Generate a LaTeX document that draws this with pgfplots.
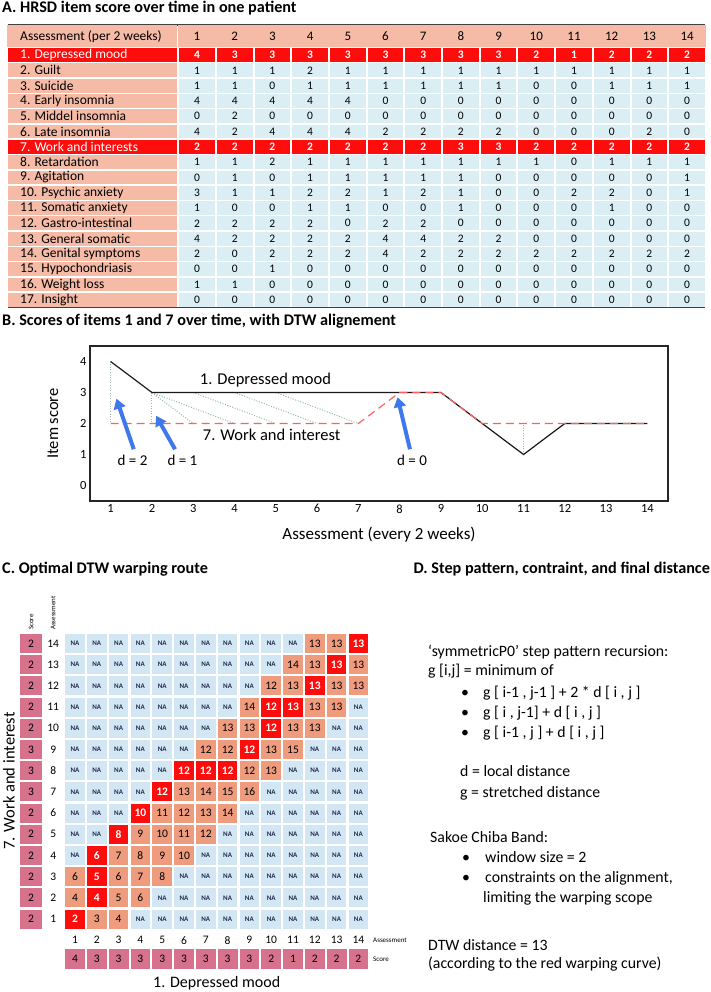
\documentclass[border=0pt]{standalone}
\usepackage{fontspec}
\setmainfont{Carlito}
\usepackage{pgfplots}
\usepackage{pgfplotstable}
\pgfplotsset{compat=1.18}
\usetikzlibrary{arrows.meta}
\definecolor{tblue}{RGB}{218,238,244}
\definecolor{tsalmon}{RGB}{245,187,166}
\definecolor{tred}{RGB}{255,12,12}
\definecolor{mblue}{RGB}{211,230,243}
\definecolor{morange}{RGB}{239,156,126}
\definecolor{mscore}{RGB}{214,114,140}
\definecolor{navy}{RGB}{30,45,80}
\definecolor{dtwline}{RGB}{150,186,166}
\definecolor{rdash}{RGB}{255,95,95}
\definecolor{arrowblue}{RGB}{62,120,236}
\newcommand\fs[1]{\fontsize{#1}{#1}\selectfont}

\pgfplotsset{
  cellbase/.style={draw=none, mark=none, point meta=explicit symbolic,
     nodes near coords={\pgfplotspointmeta}},
  cBlue/.style={cellbase, nodes near coords style={anchor=center, inner sep=0pt,
     minimum width=35.7pt, minimum height=13.8pt, fill=tblue, font=\fs{11.5}, text=black}},
  cRed/.style={cellbase, nodes near coords style={anchor=center, inner sep=0pt,
     minimum width=35.7pt, minimum height=13.8pt, fill=tred, font=\fs{11.5}\bfseries, text=white}},
}

% Panel A data
\pgfplotstableread{
r c1 c2 c3 c4 c5 c6 c7 c8 c9 c10 c11 c12 c13 c14
2 1 1 1 2 1 1 1 1 1 1 1 1 1 1
3 1 1 0 1 1 1 1 1 1 0 0 1 1 1
4 4 4 4 4 4 0 0 0 0 0 0 0 0 0
5 0 2 0 0 0 0 0 0 0 0 0 0 0 0
6 4 2 4 4 4 2 2 2 2 0 0 0 2 0
8 1 1 2 1 1 1 1 1 1 1 0 1 1 1
9 0 1 0 1 1 1 1 1 0 0 0 0 0 1
10 3 1 1 2 2 1 2 1 0 0 2 2 0 1
11 1 0 0 1 1 0 0 1 0 0 0 1 0 0
12 2 2 2 2 0 2 2 0 0 0 0 0 0 0
13 4 2 2 2 2 4 4 2 2 0 0 0 0 0
14 2 0 2 2 2 4 2 2 2 2 2 2 2 2
15 0 0 1 0 0 0 0 0 0 0 0 0 0 0
16 1 1 0 0 0 0 0 0 0 0 0 0 0 0
17 0 0 0 0 0 0 0 0 0 0 0 0 0 0
}\tabBlue
\pgfplotstableread{
r c1 c2 c3 c4 c5 c6 c7 c8 c9 c10 c11 c12 c13 c14
1 4 3 3 3 3 3 3 3 3 2 1 2 2 2
7 2 2 2 2 2 2 2 3 3 2 2 2 2 2
}\tabRed
\pgfplotstableread[col sep=comma]{
r,lab
2,2. Guilt
3,3. Suicide
4,4. Early insomnia
5,5. Middel insomnia
6,6. Late insomnia
8,8. Retardation
9,9. Agitation
10,10. Psychic anxiety
11,11. Somatic anxiety
12,12. Gastro-intestinal
13,13. General somatic
14,14. Genital symptoms
15,15. Hypochondriasis
16,16. Weight loss
17,17. Insight
}\tabLab
\pgfplotstableread[col sep=comma]{
r,lab
1,1. Depressed mood
7,7. Work and interests
}\tabLabRed

\begin{document}
\begin{tikzpicture}
\useasboundingbox (0,0) rectangle (711pt,-992pt);

% ---------- Titles ----------
\node[anchor=base west, font=\fs{16.2}\bfseries, inner sep=0pt] at (2pt,-13pt) {A. HRSD item score over time in one patient};
\node[anchor=base west, font=\fs{16.2}\bfseries, inner sep=0pt] at (2pt,-325pt) {B. Scores of items 1 and 7 over time, with DTW alignement};
\node[anchor=base west, font=\fs{16.2}\bfseries, inner sep=0pt] at (2pt,-573pt) {C. Optimal DTW warping route};
\node[anchor=base east, font=\fs{16.2}\bfseries, inner sep=0pt] at (710pt,-573pt) {D. Step pattern, contraint, and final distance};

% ---------- Panel A table ----------
\begin{axis}[at={(8pt,-25pt)}, anchor=north west, scale only axis,
  width=697pt, height=282.45pt, xmin=-4.0133, xmax=14.475, ymin=-0.9608, ymax=17.5,
  y dir=reverse, hide axis, clip=false]
% header
\addplot[cellbase, nodes near coords style={anchor=center, inner sep=0pt,
   minimum width=37.8pt, minimum height=22.35pt, fill=tsalmon, font=\fs{13}, text=black}] coordinates {
 (1,-0.229)[1] (2,-0.229)[2] (3,-0.229)[3] (4,-0.229)[4] (5,-0.229)[5] (6,-0.229)[6] (7,-0.229)[7]
 (8,-0.229)[8] (9,-0.229)[9] (10,-0.229)[10] (11,-0.229)[11] (12,-0.229)[12] (13,-0.229)[13] (14,-0.229)[14]};
\addplot[cellbase, nodes near coords={}, nodes near coords style={anchor=center, inner sep=0pt,
   minimum width=170pt, minimum height=22.35pt, fill=tsalmon}] coordinates {(-1.772,-0.229)[a]};
% label column backgrounds
\addplot[cellbase, nodes near coords={}, nodes near coords style={anchor=center, inner sep=0pt,
   minimum width=169pt, minimum height=13.8pt, fill=tsalmon}] table[x expr=-1.772, y=r, meta=r] {\tabLab};
\addplot[cellbase, nodes near coords={}, nodes near coords style={anchor=center, inner sep=0pt,
   minimum width=169pt, minimum height=13.8pt, fill=tred}] table[x expr=-1.772, y=r, meta=r] {\tabLabRed};
% label texts
\addplot[cellbase, nodes near coords style={anchor=west, inner sep=0pt, font=\fs{13.5}, text=black}]
  coordinates {(-3.695,-0.229)[Assessment (per 2 weeks)]};
\addplot[cellbase, nodes near coords style={anchor=west, inner sep=0pt, font=\fs{13.5}, text=black}]
  table[x expr=-3.695, y=r, meta=lab] {\tabLab};
\addplot[cellbase, nodes near coords style={anchor=west, inner sep=0pt, font=\fs{13.5}, text=white}]
  table[x expr=-3.695, y=r, meta=lab] {\tabLabRed};
% data cells
\addplot[cBlue] table[x expr=1, y=r, meta=c1] {\tabBlue};
\addplot[cBlue] table[x expr=2, y=r, meta=c2] {\tabBlue};
\addplot[cBlue] table[x expr=3, y=r, meta=c3] {\tabBlue};
\addplot[cBlue] table[x expr=4, y=r, meta=c4] {\tabBlue};
\addplot[cBlue] table[x expr=5, y=r, meta=c5] {\tabBlue};
\addplot[cBlue] table[x expr=6, y=r, meta=c6] {\tabBlue};
\addplot[cBlue] table[x expr=7, y=r, meta=c7] {\tabBlue};
\addplot[cBlue] table[x expr=8, y=r, meta=c8] {\tabBlue};
\addplot[cBlue] table[x expr=9, y=r, meta=c9] {\tabBlue};
\addplot[cBlue] table[x expr=10, y=r, meta=c10] {\tabBlue};
\addplot[cBlue] table[x expr=11, y=r, meta=c11] {\tabBlue};
\addplot[cBlue] table[x expr=12, y=r, meta=c12] {\tabBlue};
\addplot[cBlue] table[x expr=13, y=r, meta=c13] {\tabBlue};
\addplot[cBlue] table[x expr=14, y=r, meta=c14] {\tabBlue};
\addplot[cRed] table[x expr=1, y=r, meta=c1] {\tabRed};
\addplot[cRed] table[x expr=2, y=r, meta=c2] {\tabRed};
\addplot[cRed] table[x expr=3, y=r, meta=c3] {\tabRed};
\addplot[cRed] table[x expr=4, y=r, meta=c4] {\tabRed};
\addplot[cRed] table[x expr=5, y=r, meta=c5] {\tabRed};
\addplot[cRed] table[x expr=6, y=r, meta=c6] {\tabRed};
\addplot[cRed] table[x expr=7, y=r, meta=c7] {\tabRed};
\addplot[cRed] table[x expr=8, y=r, meta=c8] {\tabRed};
\addplot[cRed] table[x expr=9, y=r, meta=c9] {\tabRed};
\addplot[cRed] table[x expr=10, y=r, meta=c10] {\tabRed};
\addplot[cRed] table[x expr=11, y=r, meta=c11] {\tabRed};
\addplot[cRed] table[x expr=12, y=r, meta=c12] {\tabRed};
\addplot[cRed] table[x expr=13, y=r, meta=c13] {\tabRed};
\addplot[cRed] table[x expr=14, y=r, meta=c14] {\tabRed};
\draw[line width=1.3pt, black!75] (rel axis cs:0,0) -- (rel axis cs:1,0);
\draw[line width=1.3pt, black!75] (rel axis cs:0,1) -- (rel axis cs:1,1);
\end{axis}

% ---------- Panel B ----------
\begin{axis}[at={(90pt,-501pt)}, anchor=south west, scale only axis,
  width=578pt, height=155pt, xmin=0.5, xmax=14.5, ymin=-0.5, ymax=4.5,
  xtick={1,...,14}, ytick={0,...,4}, tick style={draw=none},
  axis line style={line width=1.2pt, black!85},
  /pgf/number format/assume math mode=true,
  ticklabel style={font=\fs{12.5}},
  xlabel={Assessment (every 2 weeks)}, ylabel={Item score},
  xlabel style={font=\fs{17}, at={(axis description cs:0.5,-0.215)}, anchor=center},
  ylabel style={font=\fs{16.5}, at={(axis description cs:-0.064,0.5)}, anchor=center},
  clip=false]
\addplot[dtwline, line width=1pt, dash pattern=on 1pt off 1.6pt] coordinates {(1,4) (1,2)};
\addplot[dtwline, line width=1pt, dash pattern=on 1pt off 1.6pt] coordinates {(2,3) (2,2)};
\addplot[dtwline, line width=1pt, dash pattern=on 1pt off 1.6pt] coordinates {(2,3) (3,2)};
\addplot[dtwline, line width=1pt, dash pattern=on 1pt off 1.6pt] coordinates {(2,3) (4,2)};
\addplot[dtwline, line width=1pt, dash pattern=on 1pt off 1.6pt] coordinates {(3,3) (5,2)};
\addplot[dtwline, line width=1pt, dash pattern=on 1pt off 1.6pt] coordinates {(4,3) (6,2)};
\addplot[dtwline, line width=1pt, dash pattern=on 1pt off 1.6pt] coordinates {(5,3) (7,2)};
\addplot[dtwline, line width=1pt, dash pattern=on 1pt off 1.6pt] coordinates {(6,3) (8,3)};
\addplot[dtwline, line width=1pt, dash pattern=on 1pt off 1.6pt] coordinates {(11,1) (11,2)};
\addplot[black!90, line width=1.2pt] coordinates {(1,4) (2,3) (3,3) (4,3) (5,3) (6,3) (7,3) (8,3) (9,3) (10,2) (11,1) (12,2) (13,2) (14,2)};
\addplot[rdash, line width=1.2pt, dash pattern=on 8pt off 5pt] coordinates {(1,2) (2,2) (3,2) (4,2) (5,2) (6,2) (7,2) (8,3) (9,3) (10,2) (11,2) (12,2) (13,2) (14,2)};
\node[font=\fs{16.5}] at (axis cs:4.75,3.39) {1. Depressed mood};
\node[font=\fs{16.5}] at (axis cs:4.9,1.65) {7. Work and interest};
\node[font=\fs{15}] at (axis cs:1.53,0.8) {d = 2};
\node[font=\fs{15}] at (axis cs:2.74,0.8) {d = 1};
\node[font=\fs{15}] at (axis cs:8.3,0.8) {d = 0};
\draw[arrowblue, line width=4pt, -{Triangle[length=10pt,width=12pt]}] (axis cs:1.56,1.17) -- (axis cs:1.14,2.8);
\draw[arrowblue, line width=4pt, -{Triangle[length=10pt,width=12pt]}] (axis cs:2.56,1.17) -- (axis cs:2.1,2.25);
\draw[arrowblue, line width=4pt, -{Triangle[length=10pt,width=12pt]}] (axis cs:8.25,1.17) -- (axis cs:7.95,2.85);
\end{axis}

% ---------- Panel C ----------
\begin{axis}[at={(9.6pt,-972pt)}, anchor=south west, scale only axis,
  width=370.6pt, height=349.8pt, xmin=-2, xmax=15, ymin=-1.5, ymax=15,
  hide axis, clip=false]
\addplot[draw=none, mark=none, point meta=x, nodes near coords={NA},
  nodes near coords style={anchor=center, inner sep=0pt, minimum width=19.5pt, minimum height=19pt,
  fill=mblue, font=\fs{7}\bfseries, text=navy}] coordinates {
 (4,1)(5,1)(6,1)(7,1)(8,1)(9,1)(10,1)(11,1)(12,1)(13,1)(14,1)
 (5,2)(6,2)(7,2)(8,2)(9,2)(10,2)(11,2)(12,2)(13,2)(14,2)
 (6,3)(7,3)(8,3)(9,3)(10,3)(11,3)(12,3)(13,3)(14,3)
 (1,4)(7,4)(8,4)(9,4)(10,4)(11,4)(12,4)(13,4)(14,4)
 (1,5)(2,5)(8,5)(9,5)(10,5)(11,5)(12,5)(13,5)(14,5)
 (1,6)(2,6)(3,6)(9,6)(10,6)(11,6)(12,6)(13,6)(14,6)
 (1,7)(2,7)(3,7)(4,7)(10,7)(11,7)(12,7)(13,7)(14,7)
 (1,8)(2,8)(3,8)(4,8)(5,8)(11,8)(12,8)(13,8)(14,8)
 (1,9)(2,9)(3,9)(4,9)(5,9)(6,9)(12,9)(13,9)(14,9)
 (1,10)(2,10)(3,10)(4,10)(5,10)(6,10)(7,10)(13,10)(14,10)
 (1,11)(2,11)(3,11)(4,11)(5,11)(6,11)(7,11)(8,11)(14,11)
 (1,12)(2,12)(3,12)(4,12)(5,12)(6,12)(7,12)(8,12)(9,12)
 (1,13)(2,13)(3,13)(4,13)(5,13)(6,13)(7,13)(8,13)(9,13)(10,13)
 (1,14)(2,14)(3,14)(4,14)(5,14)(6,14)(7,14)(8,14)(9,14)(10,14)(11,14)};
\addplot[cellbase, nodes near coords style={anchor=center, inner sep=0pt, minimum width=19.5pt,
  minimum height=19pt, fill=morange, font=\fs{11.5}, text=black}] coordinates {
 (2,1)[3] (3,1)[4]
 (1,2)[4] (3,2)[5] (4,2)[6]
 (1,3)[6] (3,3)[6] (4,3)[7] (5,3)[8]
 (3,4)[7] (4,4)[8] (5,4)[9] (6,4)[10]
 (4,5)[9] (5,5)[10] (6,5)[11] (7,5)[12]
 (5,6)[11] (6,6)[12] (7,6)[13] (8,6)[14]
 (6,7)[13] (7,7)[14] (8,7)[15] (9,7)[16]
 (9,8)[12] (10,8)[13]
 (7,9)[12] (8,9)[12] (10,9)[13] (11,9)[15]
 (8,10)[13] (9,10)[13] (11,10)[13] (12,10)[13]
 (9,11)[14] (12,11)[13] (13,11)[13]
 (10,12)[12] (11,12)[13] (13,12)[13] (14,12)[13]
 (11,13)[14] (12,13)[13] (14,13)[13]
 (12,14)[13] (13,14)[13]};
\addplot[cellbase, nodes near coords style={anchor=center, inner sep=0pt, minimum width=19.5pt,
  minimum height=19pt, fill=tred, font=\fs{11.5}\bfseries, text=white}] coordinates {
 (1,1)[2] (2,2)[4] (2,3)[5] (2,4)[6] (3,5)[8] (4,6)[10] (5,7)[12] (6,8)[12] (7,8)[12]
 (8,8)[12] (9,9)[12] (10,10)[12] (10,11)[12] (11,11)[13] (12,12)[13] (13,13)[13] (14,14)[13]};
% score column (7. Work and interest) and row numbers
\addplot[cellbase, nodes near coords style={anchor=center, inner sep=0pt, minimum width=22pt,
  minimum height=19pt, fill=mscore, font=\fs{11.5}, text=black}] coordinates {
 (-1.018,1)[2] (-1.018,2)[2] (-1.018,3)[2] (-1.018,4)[2] (-1.018,5)[2] (-1.018,6)[2] (-1.018,7)[3]
 (-1.018,8)[3] (-1.018,9)[3] (-1.018,10)[2] (-1.018,11)[2] (-1.018,12)[2] (-1.018,13)[2] (-1.018,14)[2]};
\addplot[cellbase, nodes near coords style={anchor=center, inner sep=0pt, font=\fs{11.5}, text=black}] coordinates {
 (0,1)[1] (0,2)[2] (0,3)[3] (0,4)[4] (0,5)[5] (0,6)[6] (0,7)[7] (0,8)[8] (0,9)[9] (0,10)[10]
 (0,11)[11] (0,12)[12] (0,13)[13] (0,14)[14]};
% bottom: assessment numbers and score row (1. Depressed mood)
\addplot[cellbase, nodes near coords style={anchor=center, inner sep=0pt, font=\fs{11.5}, text=black}] coordinates {
 (1,0)[1] (2,0)[2] (3,0)[3] (4,0)[4] (5,0)[5] (6,0)[6] (7,0)[7] (8,0)[8] (9,0)[9] (10,0)[10]
 (11,0)[11] (12,0)[12] (13,0)[13] (14,0)[14]};
\addplot[cellbase, nodes near coords style={anchor=center, inner sep=0pt, minimum width=19.8pt,
  minimum height=20pt, fill=mscore, font=\fs{11.5}, text=black}] coordinates {
 (1,-0.887)[4] (2,-0.887)[3] (3,-0.887)[3] (4,-0.887)[3] (5,-0.887)[3] (6,-0.887)[3] (7,-0.887)[3]
 (8,-0.887)[3] (9,-0.887)[3] (10,-0.887)[2] (11,-0.887)[1] (12,-0.887)[2] (13,-0.887)[2] (14,-0.887)[2]};
\node[anchor=west, font=\fs{7}, inner sep=0pt] at (axis cs:14.67,0) {Assessment};
\node[anchor=west, font=\fs{7}, inner sep=0pt] at (axis cs:14.67,-0.887) {Score};
\node[anchor=west, rotate=90, font=\fs{7}, inner sep=0pt] at (axis cs:-1.018,14.63) {Score};
\node[anchor=west, rotate=90, font=\fs{7}, inner sep=0pt] at (axis cs:0,14.63) {Assessment};
\node[rotate=90, font=\fs{16.5}, inner sep=0pt] at (axis cs:-2.03,7.51) {7. Work and interest};
\node[font=\fs{16}, inner sep=0pt] at (axis cs:7.5,-2.02) {1. Depressed mood};
\end{axis}

% ---------- Panel D text ----------
\begin{scope}[every node/.style={anchor=base west, font=\fs{15.8}, inner sep=0pt}]
\node at (428pt,-656pt) {‘symmetricP0’ step pattern recursion:};
\node at (428pt,-675pt) {g [i,j] = minimum of};
\node[anchor=base] at (465pt,-697pt) {\textbullet};
\node at (483pt,-697pt) {g [ i-1 , j-1 ] + 2 * d [ i , j ]};
\node[anchor=base] at (465pt,-717pt) {\textbullet};
\node at (483pt,-717pt) {g [ i , j-1] + d [ i , j ]};
\node[anchor=base] at (465pt,-737pt) {\textbullet};
\node at (483pt,-737pt) {g [ i-1 , j ] + d [ i , j ]};
\node at (460pt,-776pt) {d = local distance};
\node at (460pt,-797pt) {g = stretched distance};
\node at (430pt,-842pt) {Sakoe Chiba Band:};
\node[anchor=base] at (466pt,-862pt) {\textbullet};
\node at (485pt,-862pt) {window size = 2};
\node[anchor=base] at (466pt,-882pt) {\textbullet};
\node at (485pt,-882pt) {constraints on the alignment,};
\node at (483pt,-902pt) {limiting the warping scope};
\node at (428pt,-950pt) {DTW distance = 13};
\node at (428pt,-968pt) {(according to the red warping curve)};
\end{scope}
\end{tikzpicture}
\end{document}
